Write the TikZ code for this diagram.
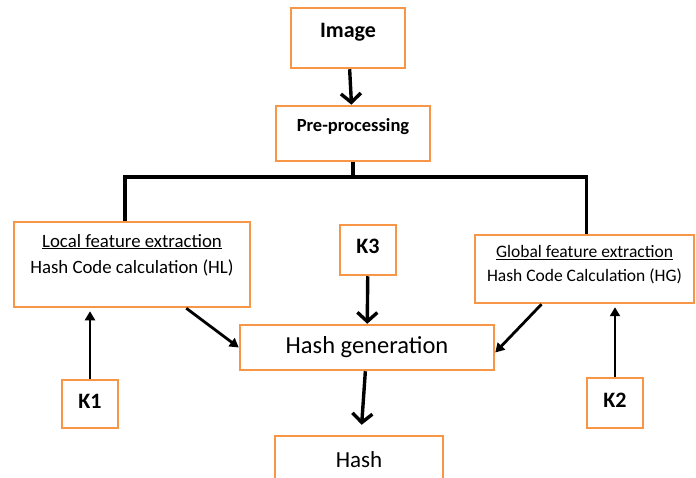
\documentclass[tikz,border=0pt]{standalone}
\usepackage{fontspec}
\setmainfont{Carlito}
\usetikzlibrary{arrows.meta}
\definecolor{boxorange}{RGB}{247,150,70}
\begin{document}
\begin{tikzpicture}[x=1pt, y=-1pt,
    box/.style={draw=boxorange, line width=2.5pt, fill=white, inner sep=0pt},
    key/.style={box, minimum width=56pt, text height=14pt, text depth=6pt,
                font=\fontsize{22}{26}\selectfont\bfseries},
    arr/.style={-{Triangle[length=9pt, width=10pt]}, line width=2.8pt},
    bigarr/.style={-{Straight Barb[length=9pt, width=20pt]}, line width=3.4pt},
    bar/.style={line width=3.4pt}]
    \useasboundingbox (0,0) rectangle (696,478);

    % Top of the chain
    \node[box, minimum width=114pt, minimum height=60pt, text height=15pt, text depth=15pt,
          font=\fontsize{22}{26}\selectfont\bfseries] (image) at (348,38) {Image};
    \node[box, minimum width=154pt, minimum height=55pt, text height=13pt, text depth=16pt,
          font=\fontsize{18.5}{22}\selectfont\bfseries] (pre) at (353,133.5) {Pre-processing};
    \draw[bigarr] (image) -- (pre);

    % Feature extraction
    \node[box, minimum width=236pt, minimum height=85pt, align=center, text depth=22pt,
          font=\fontsize{18.8}{26}\selectfont] (local) at (132,264.5)
          {\underline{Local feature extraction}\\Hash Code calculation (HL)};
    \node[box, minimum width=219pt, minimum height=68pt, align=center, text depth=11pt,
          font=\fontsize{17.5}{24}\selectfont] (global) at (584.5,269)
          {\underline{Global feature extraction}\\Hash Code Calculation (HG)};
    \coordinate (split) at (353,177);
    \draw[bar] (pre.south) -- (split);
    \draw[bar] ([xshift=-7pt]local.north) |- (split) -| ([xshift=2pt]global.north);

    % Keys
    \node[key, minimum height=50pt] (k3) at (368,250) {K3};
    \node[key, minimum height=48pt] (k1) at (90,404) {K1};
    \node[key, minimum height=50pt] (k2) at (615,403) {K2};

    % Hash generation
    \node[box, minimum width=254pt, minimum height=45pt, font=\fontsize{24.5}{29}\selectfont] (hashgen) at (367,347.5) {Hash generation};
    \node[box, minimum width=168pt, minimum height=54pt, text height=16pt, text depth=8pt,
          font=\fontsize{23}{27}\selectfont] (hash) at (359,463) {Hash};

    % Arrows
    \draw[arr] ([xshift=-65pt]local.south east) -- (hashgen.west);
    \draw[arr] ([xshift=-43pt]global.south) -- ([yshift=-5pt]hashgen.east);
    \draw[bigarr] (k3) -- (hashgen);
    \draw[arr, shorten >=3pt] (k1.north) -- (k1.north |- local.south);
    \draw[arr, shorten >=3pt] (k2.north) -- (k2.north |- global.south);
    \draw[bigarr, shorten >=10pt] (hashgen) -- (hash);
\end{tikzpicture}
\end{document}
